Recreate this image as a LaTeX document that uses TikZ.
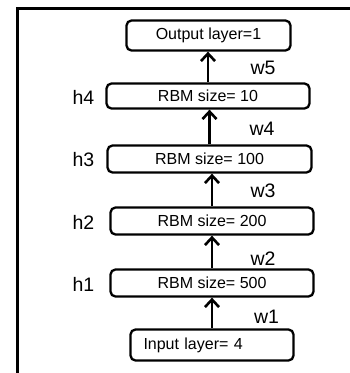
\documentclass[tikz,border=0pt]{standalone}
\usepackage{fontspec}
\setmainfont{Liberation Sans}
\usetikzlibrary{arrows.meta}
\begin{document}
\begin{tikzpicture}[x=1pt,y=-1pt,
  layer/.style={draw, line width=2.3pt, rounded corners=5pt, inner sep=0pt,
    font=\fontsize{16}{19}\selectfont, minimum height=27pt, minimum width=203pt},
  lbl/.style={inner sep=0pt, font=\fontsize{19.5}{22}\selectfont},
  up/.style={line width=2.6pt, -{Straight Barb[length=7.5pt,width=14pt]}}]
\useasboundingbox (0,0) rectangle (350,373);
% open frame: left and top edges
\draw[line width=3pt] (17,373) |- (350,8);
% stacked layers
\node[layer, minimum width=164pt, minimum height=30pt] (out) at (208.5,35.5) {Output layer=1};
\node[layer, minimum height=25pt] (h4) at (208,96) {RBM size= 10};
\node[layer, minimum width=204pt] (h3) at (209.5,159) {RBM size= 100};
\node[layer] (h2) at (212,221) {RBM size= 200};
\node[layer] (h1) at (212,283) {RBM size= 500};
\node[layer, minimum width=163pt, minimum height=31pt, text width=137pt,
  align=left, inner xsep=13pt] (in) at (212,345) {Input layer= 4};
% weights between layers
\draw[up] (in.north) -- (in.north |- h1.south);
\draw[up] (h1.north) -- (h1.north |- h2.south);
\draw[up] (h2.north) -- (h2.north |- h3.south);
\draw[up] (h3.north) -- (h3.north |- h4.south);
\draw[up] (h4.north) -- (h4.north |- out.south);
% hidden layer names
\node[lbl] (lh4) at (83.5,97) {h4};
\node[lbl] (lh3) at (83.5,160) {h3};
\node[lbl] (lh2) at (83.5,222) {h2};
\node[lbl] (lh1) at (83.5,284) {h1};
% weight names
\node[lbl] (lw5) at (263,68) {w5};
\node[lbl] (lw4) at (262,129) {w4};
\node[lbl] (lw3) at (263,191) {w3};
\node[lbl] (lw2) at (263,258.5) {w2};
\node[lbl] (lw1) at (266.5,316.5) {w1};
\end{tikzpicture}
\end{document}
